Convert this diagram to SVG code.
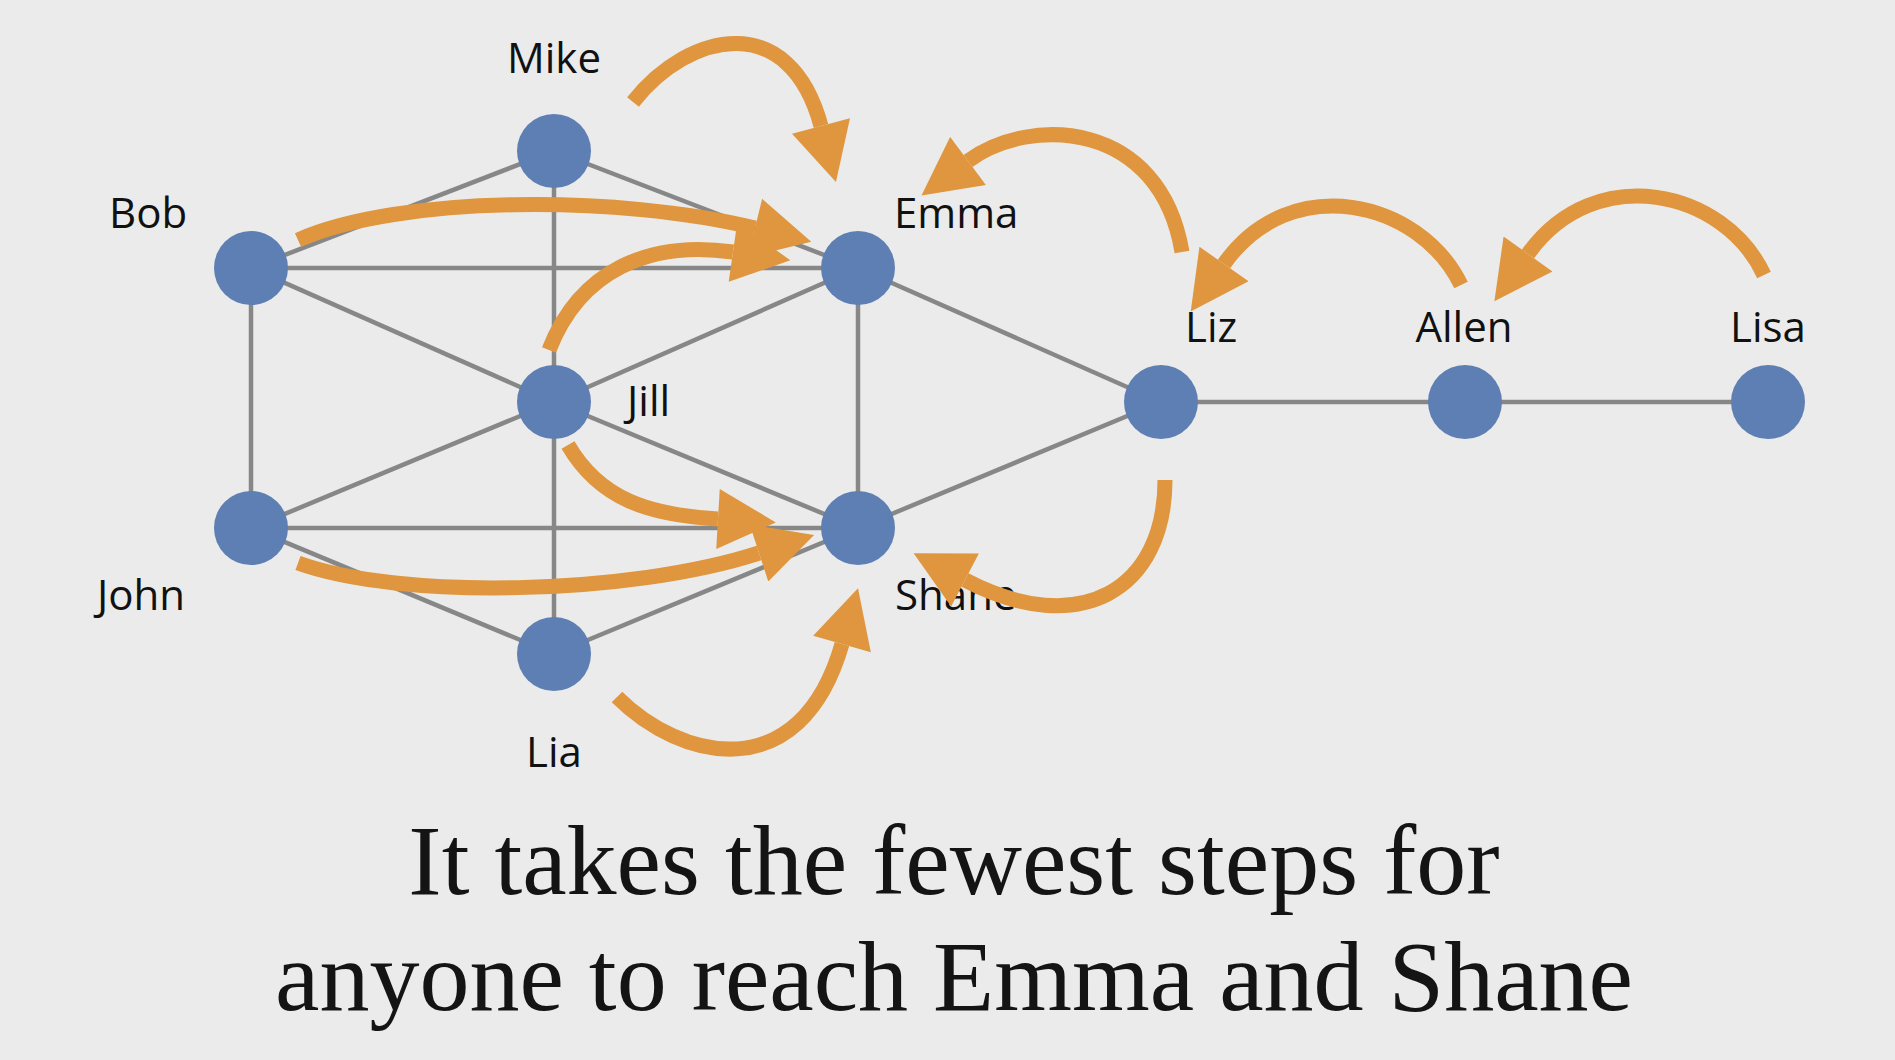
<svg xmlns="http://www.w3.org/2000/svg" width="1895" height="1060" viewBox="0 0 1895 1060">
<defs>
<style>
.edge{stroke:#878787;stroke-width:4.5;fill:none}
.node{fill:#5e7fb3}
.lbl{font-family:"Open Sans","Noto Sans",sans-serif;font-size:42px;fill:#111}
.arr{stroke:#df963e;stroke-width:15;fill:none;marker-end:url(#ah)}
.cap{font-family:"Liberation Serif","Times New Roman",serif;font-size:100px;fill:#141414;text-anchor:middle}
</style>
<marker id="ah" markerUnits="userSpaceOnUse" markerWidth="60" markerHeight="60" refX="0" refY="29" orient="auto" viewBox="0 0 56 58">
<path d="M0,0 L56,29 L0,58 Z" fill="#df963e"/>
</marker>
</defs>
<rect width="1895" height="1060" fill="#ebebeb"/>
<g id="edges">
<line class="edge" x1="554" y1="151" x2="251" y2="268"/>
<line class="edge" x1="554" y1="151" x2="858" y2="268"/>
<line class="edge" x1="554" y1="151" x2="554" y2="402"/>
<line class="edge" x1="251" y1="268" x2="858" y2="268"/>
<line class="edge" x1="251" y1="268" x2="554" y2="402"/>
<line class="edge" x1="251" y1="268" x2="251" y2="528"/>
<line class="edge" x1="858" y1="268" x2="554" y2="402"/>
<line class="edge" x1="858" y1="268" x2="858" y2="528"/>
<line class="edge" x1="858" y1="268" x2="1161" y2="402"/>
<line class="edge" x1="554" y1="402" x2="251" y2="528"/>
<line class="edge" x1="554" y1="402" x2="858" y2="528"/>
<line class="edge" x1="554" y1="402" x2="554" y2="654"/>
<line class="edge" x1="251" y1="528" x2="858" y2="528"/>
<line class="edge" x1="251" y1="528" x2="554" y2="654"/>
<line class="edge" x1="554" y1="654" x2="858" y2="528"/>
<line class="edge" x1="858" y1="528" x2="1161" y2="402"/>
<line class="edge" x1="1161" y1="402" x2="1465" y2="402"/>
<line class="edge" x1="1465" y1="402" x2="1768" y2="402"/>
</g>
<g id="node-mike"><circle class="node" cx="554" cy="151" r="37"/><text class="lbl" x="554" y="73" text-anchor="middle">Mike</text></g>
<g id="node-bob"><circle class="node" cx="251" cy="268" r="37"/><text class="lbl" x="109" y="228">Bob</text></g>
<g id="node-emma"><circle class="node" cx="858" cy="268" r="37"/><text class="lbl" x="894" y="228">Emma</text></g>
<g id="node-jill"><circle class="node" cx="554" cy="402" r="37"/><text class="lbl" x="627" y="416">Jill</text></g>
<g id="node-john"><circle class="node" cx="251" cy="528" r="37"/><text class="lbl" x="97" y="610">John</text></g>
<g id="node-shane"><circle class="node" cx="858" cy="528" r="37"/><text class="lbl" x="895" y="610">Shane</text></g>
<g id="node-lia"><circle class="node" cx="554" cy="654" r="37"/><text class="lbl" x="554" y="767" text-anchor="middle">Lia</text></g>
<g id="node-liz"><circle class="node" cx="1161" cy="402" r="37"/><text class="lbl" x="1185" y="342">Liz</text></g>
<g id="node-allen"><circle class="node" cx="1465" cy="402" r="37"/><text class="lbl" x="1464" y="342" text-anchor="middle">Allen</text></g>
<g id="node-lisa"><circle class="node" cx="1768" cy="402" r="37"/><text class="lbl" x="1768" y="342" text-anchor="middle">Lisa</text></g>
<g id="arrows">
<path class="arr" d="M633,102 C690,30 790,10 821,126"/>
<path class="arr" d="M298,240 C400,195 620,195 755,228"/>
<path class="arr" d="M549,350 C580,270 650,240 733,252"/>
<path class="arr" d="M568,445 C600,500 650,515 718,519"/>
<path class="arr" d="M298,563 C400,600 630,595 759,553"/>
<path class="arr" d="M617,697 C680,760 800,790 842,644"/>
<path class="arr" d="M1165,480 C1165,590 1080,640 965,580"/>
<path class="arr" d="M1182,252 C1160,120 1030,115 968,161"/>
<path class="arr" d="M1461,285 C1420,200 1290,170 1224,264"/>
<path class="arr" d="M1764,275 C1725,190 1595,160 1528,254"/>
</g>
<text class="cap" x="954" y="894">It takes the fewest steps for</text>
<text class="cap" x="954" y="1010">anyone to reach Emma and Shane</text>
</svg>
